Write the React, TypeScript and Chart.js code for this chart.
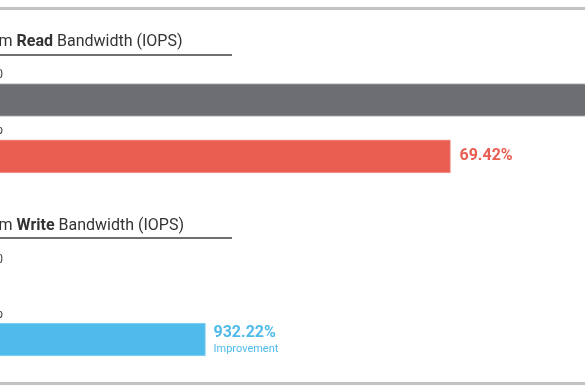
import React, { useEffect, useRef } from "react";
import { Chart, registerables } from "chart.js";

Chart.register(...registerables);

// ---- data ----
const readCategories = ["Baseline 2020", "Optimized Setup"];
const readValues = [842900, 497500];
const readImprovement = "69.42%";

const writeCategories = ["Baseline 2020", "Optimized Setup"];
const writeValues = [24460, 252500];
const writeImprovement = "932.22%";
const improvementCaption = "Improvement";

const readTitle = ["Random ", "Read", " Bandwidth (IOPS)"];
const writeTitle = ["Random ", "Write", " Bandwidth (IOPS)"];
const axisMax = 900000;

// ---- style ----
const GREY = "#6d6e71";
const RED = "#e95e50";
const BLUE = "#4fbbea";
const FONT = "Roboto, 'Noto Sans', Arial, sans-serif";
const SHIFT = 60; // part of the canvas hidden on the left
const CW = 960;
const CH = 195;
const PAD_LEFT = 13;

type Cfg = {
  labels: string[];
  values: number[];
  colors: string[];
  borders: string[];
  title: string[];
  titleBaseline: number;
  underlineY: number;
  padTop: number;
  padBottom: number;
  note: string;
  noteColor: string;
  caption?: string;
  borderLineY: number;
};

function makeChart(canvas: HTMLCanvasElement, cfg: Cfg) {
  const deco = {
    id: "deco",
    afterDraw(chart: any) {
      const ctx = chart.ctx as CanvasRenderingContext2D;
      const left = chart.chartArea.left;
      ctx.save();
      // frame line
      ctx.fillStyle = "#c2c2c2";
      ctx.fillRect(0, cfg.borderLineY, CW, 3);
      // title
      let x = left;
      ctx.textBaseline = "alphabetic";
      ctx.textAlign = "left";
      ctx.fillStyle = "#333333";
      cfg.title.forEach((part, i) => {
        ctx.font = (i === 1 ? "bold " : "") + "16px " + FONT;
        ctx.fillText(part, x, cfg.titleBaseline);
        x += ctx.measureText(part).width;
      });
      // underline
      ctx.fillStyle = "#707070";
      ctx.fillRect(left, cfg.underlineY - 1, 232 + SHIFT - left, 2);
      // category labels + value label
      const meta = chart.getDatasetMeta(0);
      meta.data.forEach((el: any, i: number) => {
        const top = el.y - el.height / 2;
        ctx.font = "12px " + FONT;
        ctx.fillStyle = "#444444";
        ctx.textAlign = "right";
        ctx.textBaseline = "alphabetic";
        ctx.fillText(chart.data.labels[i], left + 50, top - 5.5);
      });
      const last = meta.data[meta.data.length - 1];
      ctx.textAlign = "left";
      ctx.fillStyle = cfg.noteColor;
      ctx.font = "bold 16px " + FONT;
      ctx.textBaseline = "middle";
      if (cfg.caption) {
        ctx.fillText(cfg.note, last.x + 8, last.y - 6.5);
        ctx.font = "11px " + FONT;
        ctx.fillText(cfg.caption, last.x + 8, last.y + 10);
      } else {
        ctx.fillText(cfg.note, last.x + 9, last.y);
      }
      ctx.restore();
    },
  };

  return new Chart(canvas, {
    type: "bar",
    data: {
      labels: cfg.labels,
      datasets: [
        {
          data: cfg.values,
          backgroundColor: cfg.colors,
          borderColor: cfg.borders,
          borderWidth: 1,
          borderSkipped: false,
          barThickness: 33,
        },
      ],
    },
    options: {
      indexAxis: "y",
      animation: false,
      responsive: false,
      events: [],
      layout: {
        padding: {
          top: cfg.padTop,
          bottom: cfg.padBottom,
          left: PAD_LEFT,
          right: CW - PAD_LEFT - 900,
        },
      },
      scales: {
        x: { display: false, min: 0, max: axisMax },
        y: { display: false },
      },
      plugins: { legend: { display: false }, tooltip: { enabled: false } },
    } as any,
    plugins: [deco],
  });
}

export default function App() {
  const aRef = useRef<HTMLCanvasElement>(null);
  const bRef = useRef<HTMLCanvasElement>(null);

  useEffect(() => {
    const a = makeChart(aRef.current!, {
      labels: readCategories,
      values: readValues,
      colors: [GREY, RED],
      borders: ["#b9babb", "#f39a90"],
      title: readTitle,
      titleBaseline: 46,
      underlineY: 55,
      padTop: 71.8,
      padBottom: 10.4,
      note: readImprovement,
      noteColor: RED,
      borderLineY: 7,
    });
    const b = makeChart(bRef.current!, {
      labels: writeCategories,
      values: writeValues,
      colors: [GREY, BLUE],
      borders: ["#b9babb", "#8fd3f2"],
      title: writeTitle,
      titleBaseline: 35,
      underlineY: 43,
      padTop: 62,
      padBottom: 23,
      note: writeImprovement,
      noteColor: BLUE,
      caption: improvementCaption,
      borderLineY: 187,
    });
    return () => {
      a.destroy();
      b.destroy();
    };
  }, []);

  return (
    <div
      style={{
        position: "fixed",
        left: 0,
        top: 0,
        width: 585,
        height: 390,
        overflow: "hidden",
        background: "#ffffff",
      }}
    >
      <canvas
        ref={aRef}
        width={CW}
        height={CH}
        style={{ position: "absolute", left: -SHIFT, top: 0, width: CW, height: CH }}
      />
      <canvas
        ref={bRef}
        width={CW}
        height={CH}
        style={{ position: "absolute", left: -SHIFT, top: CH, width: CW, height: CH }}
      />
    </div>
  );
}
